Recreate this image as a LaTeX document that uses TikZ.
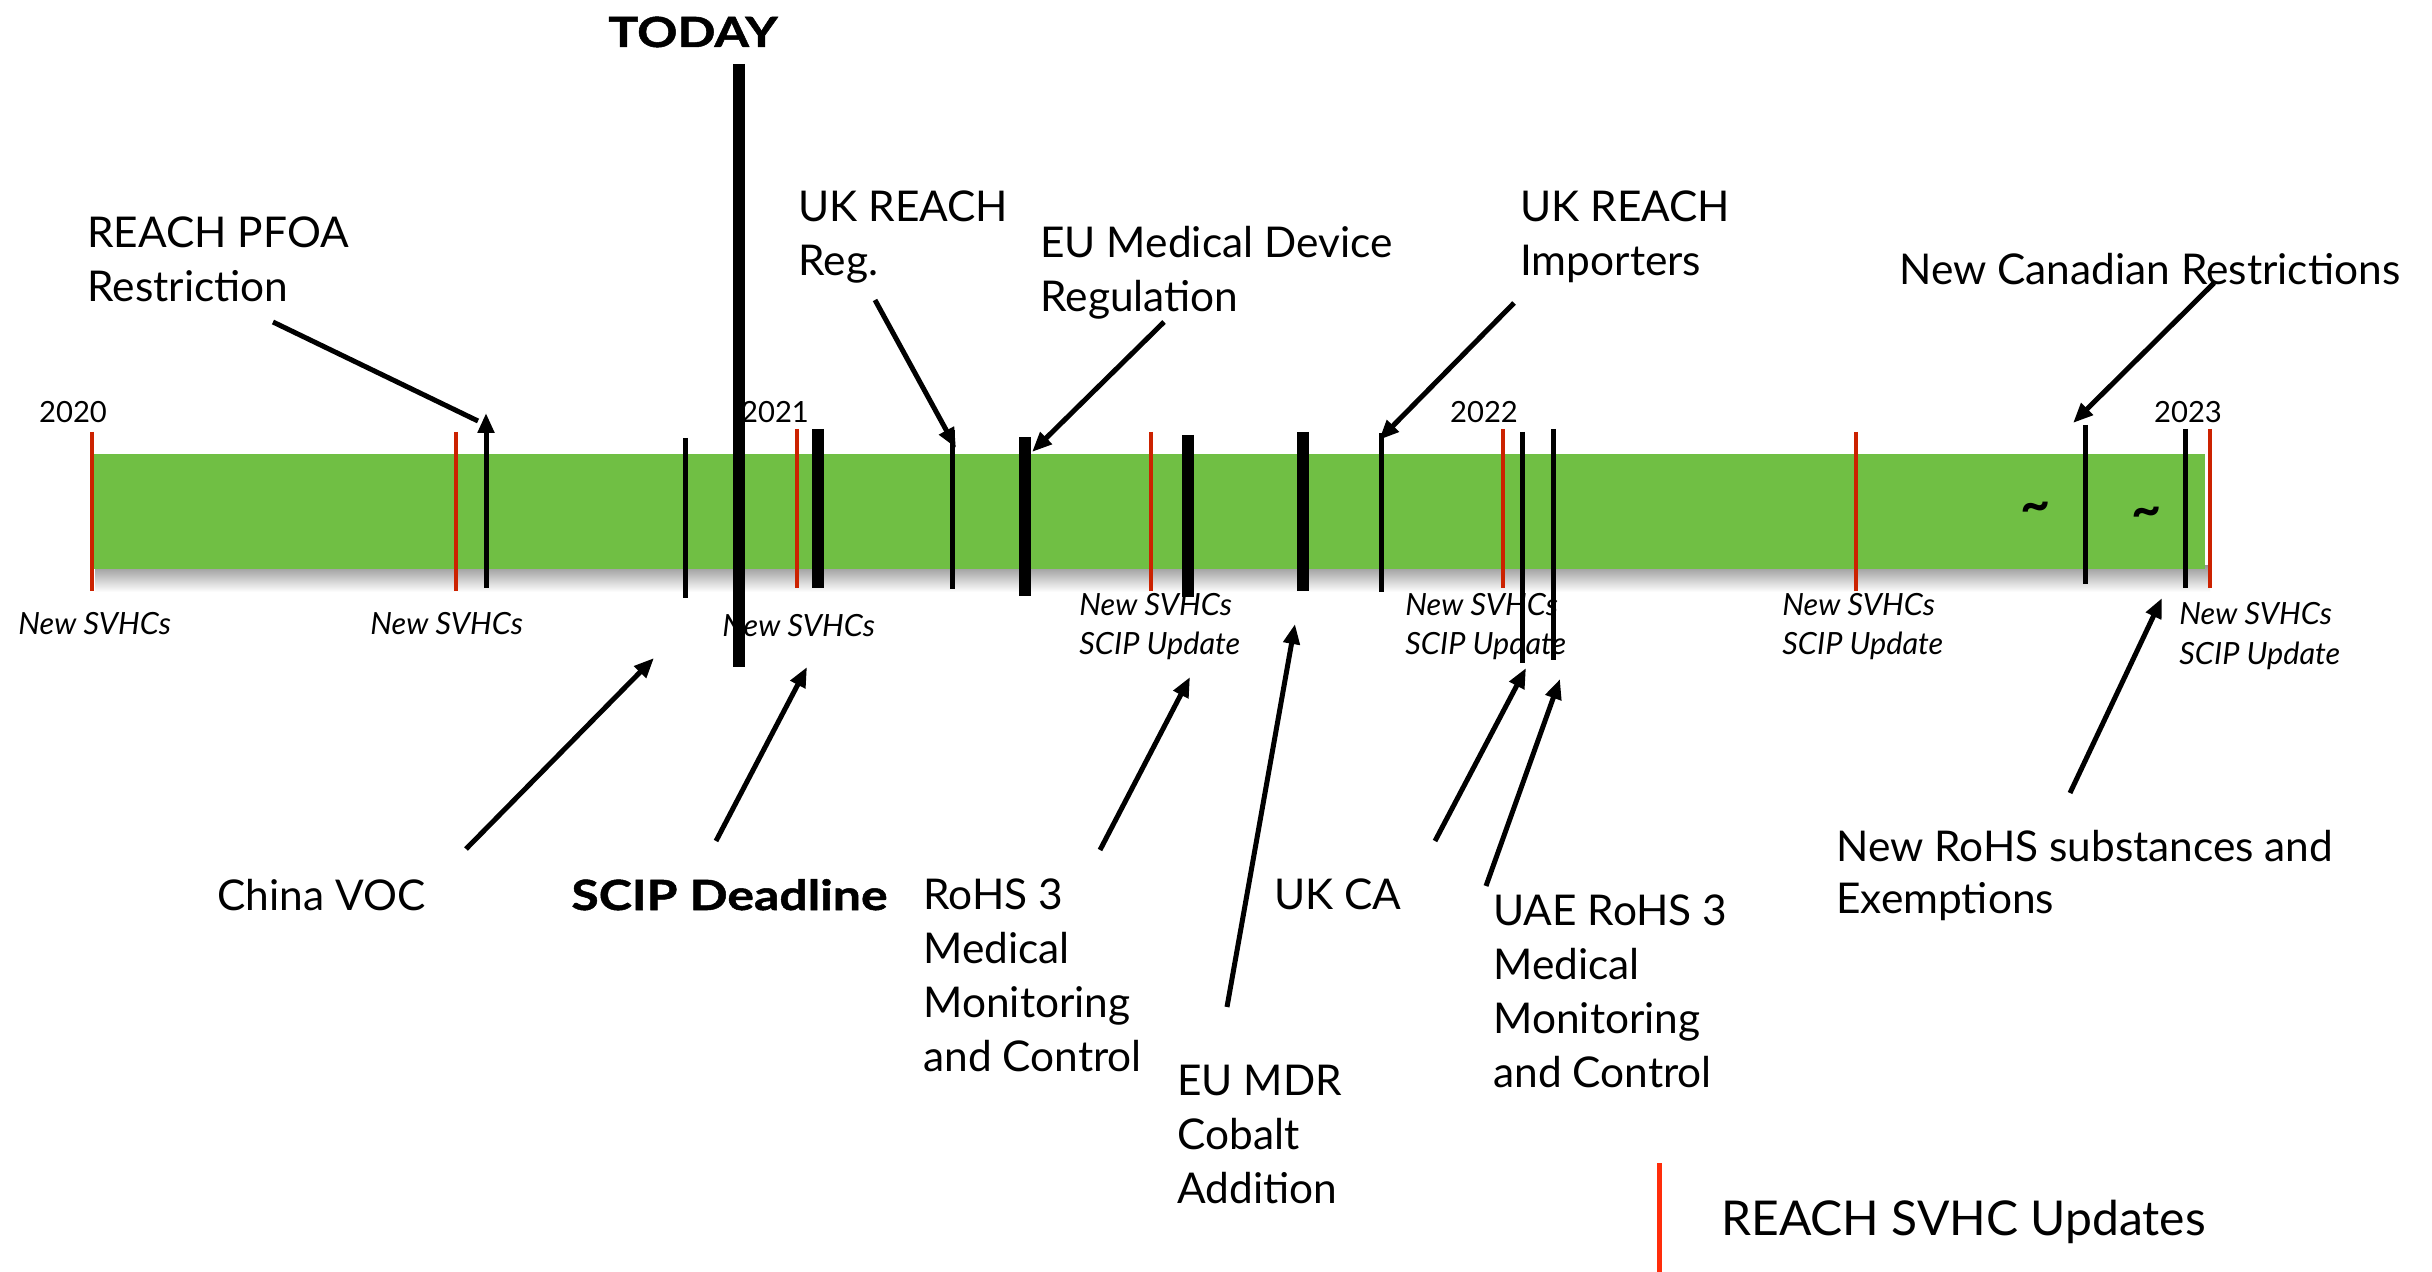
\documentclass[tikz,border=0pt]{standalone}
\usepackage{fontspec}
\setmainfont{Lato}
\newfontfamily\heavyfont{Lato Bold}[FakeStretch=1.2,FakeBold=1.2]
\usetikzlibrary{arrows.meta}
\definecolor{barg}{RGB}{112,191,68}
\definecolor{svhc}{RGB}{204,34,0}
\definecolor{legred}{RGB}{255,45,10}
\begin{document}
\begin{tikzpicture}[x=0.5pt,y=-0.5pt,
  svhcline/.style={draw=svhc,line width=2pt},
  evline/.style={draw=black,line width=2.5pt},
  evthick/.style={draw=black,line width=6pt},
  pointer/.style={draw=black,line width=2.5pt,-{Triangle[length=10pt,width=8pt]}},
  lbl/.style={font=\fontsize{21.2}{27}\selectfont,align=left,anchor=base west,inner sep=0pt},
  boldlbl/.style={lbl,font=\fontsize{20.8}{27}\selectfont\heavyfont},
  small/.style={font=\fontsize{15.3}{20}\selectfont\itshape,align=left,anchor=base west,inner sep=0pt},
  yr/.style={font=\fontsize{14.6}{16}\selectfont,anchor=base,inner sep=0pt},
  tilde/.style={font=\fontsize{26}{26}\selectfont\bfseries,inner sep=0pt}]
\useasboundingbox (0,0) rectangle (2432,1272);
\fill[white] (0,0) rectangle (2432,1272);

% bar with shadow
\shade[top color=black!40,bottom color=white] (95,566) rectangle (2210,592);
\fill[barg] (92,454) rectangle (2205,569);

% year labels
\node[yr] (y20) at (73,423) {2020};
\node[yr] (y21) at (775,423) {2021};
\node[yr] (y22) at (1484,423) {2022};
\node[yr] (y23) at (2188,423) {2023};

% small SVHC labels (anchor = baseline of last line)
\node[small] (s1) at (18,635) {New SVHCs};
\node[small] (s2) at (370,635) {New SVHCs};
\node[small] (s3) at (722,637) {New SVHCs};
\node[small] (s4) at (1079,655) {New SVHCs\\SCIP Update};
\node[small] (s5) at (1405,655) {New SVHCs\\SCIP Update};
\node[small] (s6) at (1782,655) {New SVHCs\\SCIP Update};
\node[small] (s7) at (2179,665) {New SVHCs\\SCIP Update};

% tildes
\node[tilde] (t1) at (2036,512) {\textasciitilde};
\node[tilde] (t2) at (2147,517) {\textasciitilde};

% main labels (anchor = baseline of last line)
\node[boldlbl,anchor=base] (today) at (693,47) {TODAY};
\node[lbl] (pfoa) at (87,302) {REACH PFOA\\Restriction};
\node[lbl] (ukreg) at (798,276) {UK REACH\\Reg.};
\node[lbl] (eumdr) at (1040,312) {EU Medical Device\\Regulation};
\node[lbl] (ukimp) at (1520,276) {UK REACH\\Importers};
\node[lbl] (canada) at (1899,285) {New Canadian Restrictions};
\node[lbl] (china) at (217,910) {China VOC};
\node[boldlbl] (scip) at (571,910) {SCIP Deadline};
\node[lbl] (rohs) at (923,1071) {RoHS 3\\Medical\\Monitoring\\and Control};
\node[lbl] (cobalt) at (1177,1203) {EU MDR\\Cobalt\\Addition};
\node[lbl] (ukca) at (1274,909) {UK CA};
\node[lbl] (uae) at (1493,1087) {UAE RoHS 3\\Medical\\Monitoring\\and Control};
\node[lbl,font=\fontsize{21.2}{26}\selectfont] (newrohs) at (1836,913) {New RoHS substances and\\Exemptions};
\node[lbl,font=\fontsize{24}{27}\selectfont] (legend) at (1721,1235) {REACH SVHC Updates};

% red SVHC markers
\foreach \n/\x/\t/\b in {r1/92/432/591,r2/456/432/591,r3/797/429/588,r4/1151/432/591,r5/1503/429/588,r6/1856/432/591,r7/2210/429/588}{
  \coordinate (\n t) at (\x,\t);
  \coordinate (\n b) at (\x,\b);
  \draw[svhcline] (\n t) -- (\n b);
}
% thin black markers
\foreach \n/\x/\t/\b in {b2/685/438/598,b3/952/430/589,b4/1381/433/592,b5/1522/432/663,b6/1553/429/660,b7/2085/425/584,b8/2185/429/588}{
  \coordinate (\n t) at (\x,\t);
  \coordinate (\n b) at (\x,\b);
  \draw[evline] (\n t) -- (\n b);
}
\coordinate (b1t) at (486,413);
\coordinate (b1b) at (486,588);
\draw[pointer] (b1b) -- (b1t);
% thick black markers
\foreach \n/\x/\t/\b in {k1/818/429/588,k2/1025/437/596,k3/1188/435/597,k4/1303/432/591}{
  \coordinate (\n t) at (\x,\t);
  \coordinate (\n b) at (\x,\b);
  \draw[evthick] (\n t) -- (\n b);
}
% today line
\coordinate (todt) at (739,64);
\coordinate (todb) at (739,667);
\draw[evthick] (todt) -- (todb);

% legend line
\coordinate (legt) at (1659,1163);
\coordinate (legb) at (1659,1272);
\draw[draw=legred,line width=2.5pt] (legt) -- (legb);

% arrows
\coordinate (a1s) at (273,322); \coordinate (a1e) at (478,421);
\draw[evline] (a1s) -- (a1e);
\coordinate (a2s) at (875,300); \coordinate (a2e) at (956,448);
\draw[pointer] (a2s) -- (a2e);
\coordinate (a3s) at (1164,322); \coordinate (a3e) at (1032,452);
\draw[pointer] (a3s) -- (a3e);
\coordinate (a4s) at (1514,303); \coordinate (a4e) at (1379,440);
\draw[pointer] (a4s) -- (a4e);
\coordinate (a5s) at (2214,283); \coordinate (a5e) at (2073,423);
\draw[pointer] (a5s) -- (a5e);
\coordinate (a6s) at (466,849); \coordinate (a6e) at (654,658);
\draw[pointer] (a6s) -- (a6e);
\coordinate (a7s) at (716,841); \coordinate (a7e) at (807,667);
\draw[pointer] (a7s) -- (a7e);
\coordinate (a8s) at (1100,850); \coordinate (a8e) at (1190,677);
\draw[pointer] (a8s) -- (a8e);
\coordinate (a9s) at (1227,1007); \coordinate (a9e) at (1295,624);
\draw[pointer] (a9s) -- (a9e);
\coordinate (a10s) at (1435,841); \coordinate (a10e) at (1526,668);
\draw[pointer] (a10s) -- (a10e);
\coordinate (a11s) at (1486,886); \coordinate (a11e) at (1560,679);
\draw[pointer] (a11s) -- (a11e);
\coordinate (a12s) at (2070,793); \coordinate (a12e) at (2162,598);
\draw[pointer] (a12s) -- (a12e);
\end{tikzpicture}
\end{document}
